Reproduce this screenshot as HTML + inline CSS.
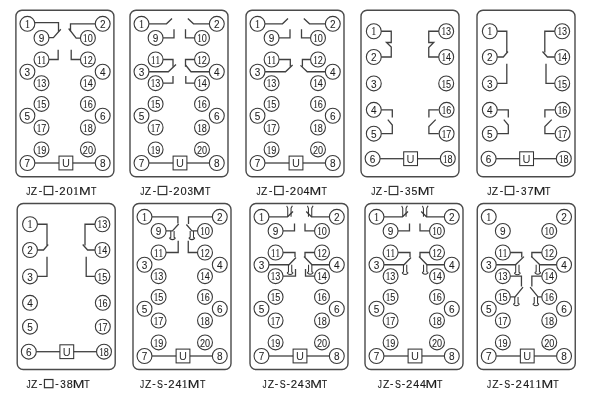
<!DOCTYPE html>
<html><head><meta charset="utf-8"><style>
html,body{margin:0;padding:0;background:#fff;width:600px;height:400px;overflow:hidden}
svg{position:absolute;left:0;top:0;will-change:transform}
.ln polyline,.ln line,.ln path{fill:none;stroke:#404040;stroke-width:1.3}
.ln circle{fill:none;stroke:#3a3a3a;stroke-width:1.1}
.ln .bx{fill:none;stroke:#4a4a4a;stroke-width:1.4}
.ln .ub{fill:none;stroke:#333;stroke-width:1.05}
.ln path.dl{stroke-width:1.05;stroke:#353535}
text{font-family:"Liberation Sans",sans-serif;fill:#333;text-anchor:middle}
.dg{font-size:11.8px;font-family:"Liberation Sans",sans-serif;fill:#1e1e1e;stroke:#1e1e1e;stroke-width:0.08}
.s1{font-family:"Liberation Serif",serif}
.u{font-size:11px}
.lb{font-size:11.5px;text-anchor:start;fill:#1a1a1a;stroke:#1a1a1a;stroke-width:0.15}
.lsq{fill:none;stroke:#333;stroke-width:1.2}
.lab{position:absolute;width:120px;text-align:center;font-family:"Liberation Sans",sans-serif;font-size:11px;line-height:14px;color:#333;letter-spacing:0.3px}
.sq{display:inline-block;width:7.5px;height:7.5px;border:1px solid #333;vertical-align:-0.5px;margin:0 1px}
</style></head><body>
<svg width="600" height="400" viewBox="0 0 600 400">
<g class="ln">
<rect x="15.90" y="10.25" width="98" height="166.5" rx="6" ry="6" class="bx" />
<circle cx="27.40" cy="23.80" r="7.45" />
<text transform="translate(27.40,27.90) scale(0.85,1)" class="dg"><tspan class="s1">1</tspan></text>
<circle cx="102.70" cy="23.80" r="7.45" />
<text transform="translate(102.70,27.90) scale(0.85,1)" class="dg">2</text>
<circle cx="41.50" cy="37.90" r="7.45" />
<text transform="translate(41.50,42.00) scale(0.85,1)" class="dg">9</text>
<circle cx="87.90" cy="37.90" r="7.45" />
<text transform="translate(87.90,42.00) scale(0.77,1)" class="dg"><tspan class="s1">1</tspan>0</text>
<circle cx="41.50" cy="59.50" r="7.45" />
<text transform="translate(41.50,63.60) scale(0.77,1)" class="dg"><tspan class="s1">1</tspan><tspan class="s1">1</tspan></text>
<circle cx="87.90" cy="59.50" r="7.45" />
<text transform="translate(87.90,63.60) scale(0.77,1)" class="dg"><tspan class="s1">1</tspan>2</text>
<circle cx="27.40" cy="71.75" r="7.45" />
<text transform="translate(27.40,75.85) scale(0.85,1)" class="dg">3</text>
<circle cx="102.70" cy="71.75" r="7.45" />
<text transform="translate(102.70,75.85) scale(0.85,1)" class="dg">4</text>
<circle cx="41.50" cy="83.20" r="7.45" />
<text transform="translate(41.50,87.30) scale(0.77,1)" class="dg"><tspan class="s1">1</tspan>3</text>
<circle cx="87.90" cy="83.20" r="7.45" />
<text transform="translate(87.90,87.30) scale(0.77,1)" class="dg"><tspan class="s1">1</tspan>4</text>
<circle cx="41.50" cy="103.90" r="7.45" />
<text transform="translate(41.50,108.00) scale(0.77,1)" class="dg"><tspan class="s1">1</tspan>5</text>
<circle cx="87.90" cy="103.90" r="7.45" />
<text transform="translate(87.90,108.00) scale(0.77,1)" class="dg"><tspan class="s1">1</tspan>6</text>
<circle cx="27.40" cy="115.75" r="7.45" />
<text transform="translate(27.40,119.85) scale(0.85,1)" class="dg">5</text>
<circle cx="102.70" cy="115.75" r="7.45" />
<text transform="translate(102.70,119.85) scale(0.85,1)" class="dg">6</text>
<circle cx="41.50" cy="127.50" r="7.45" />
<text transform="translate(41.50,131.60) scale(0.77,1)" class="dg"><tspan class="s1">1</tspan>7</text>
<circle cx="87.90" cy="127.50" r="7.45" />
<text transform="translate(87.90,131.60) scale(0.77,1)" class="dg"><tspan class="s1">1</tspan>8</text>
<circle cx="41.50" cy="149.40" r="7.45" />
<text transform="translate(41.50,153.50) scale(0.77,1)" class="dg"><tspan class="s1">1</tspan>9</text>
<circle cx="87.90" cy="149.40" r="7.45" />
<text transform="translate(87.90,153.50) scale(0.77,1)" class="dg">20</text>
<circle cx="27.40" cy="163.00" r="7.45" />
<text transform="translate(27.40,167.10) scale(0.85,1)" class="dg">7</text>
<circle cx="102.70" cy="163.00" r="7.45" />
<text transform="translate(102.70,167.10) scale(0.85,1)" class="dg">8</text>
<line x1="34.85" y1="163.00" x2="59.00" y2="163.00" />
<line x1="72.80" y1="163.00" x2="95.25" y2="163.00" />
<rect x="59.00" y="156.10" width="13.8" height="13.8" class="ub" />
<text x="65.90" y="166.80" class="u">U</text>
<polyline points="34.55,22.60 58.50,22.60 58.50,31.80" />
<polyline points="48.95,37.70 53.40,37.70 60.80,29.25" />
<polyline points="95.25,23.85 70.50,23.85 70.50,31.30" />
<polyline points="68.65,28.50 76.15,38.10 80.45,38.10" />
<polyline points="48.95,59.50 58.15,59.50 58.15,49.80" />
<polyline points="80.45,59.50 71.20,59.50 71.20,49.80" />
<rect x="130.00" y="10.25" width="98" height="166.5" rx="6" ry="6" class="bx" />
<circle cx="141.50" cy="23.80" r="7.45" />
<text transform="translate(141.50,27.90) scale(0.85,1)" class="dg"><tspan class="s1">1</tspan></text>
<circle cx="216.80" cy="23.80" r="7.45" />
<text transform="translate(216.80,27.90) scale(0.85,1)" class="dg">2</text>
<circle cx="155.60" cy="37.90" r="7.45" />
<text transform="translate(155.60,42.00) scale(0.85,1)" class="dg">9</text>
<circle cx="202.00" cy="37.90" r="7.45" />
<text transform="translate(202.00,42.00) scale(0.77,1)" class="dg"><tspan class="s1">1</tspan>0</text>
<circle cx="155.60" cy="59.50" r="7.45" />
<text transform="translate(155.60,63.60) scale(0.77,1)" class="dg"><tspan class="s1">1</tspan><tspan class="s1">1</tspan></text>
<circle cx="202.00" cy="59.50" r="7.45" />
<text transform="translate(202.00,63.60) scale(0.77,1)" class="dg"><tspan class="s1">1</tspan>2</text>
<circle cx="141.50" cy="71.75" r="7.45" />
<text transform="translate(141.50,75.85) scale(0.85,1)" class="dg">3</text>
<circle cx="216.80" cy="71.75" r="7.45" />
<text transform="translate(216.80,75.85) scale(0.85,1)" class="dg">4</text>
<circle cx="155.60" cy="83.20" r="7.45" />
<text transform="translate(155.60,87.30) scale(0.77,1)" class="dg"><tspan class="s1">1</tspan>3</text>
<circle cx="202.00" cy="83.20" r="7.45" />
<text transform="translate(202.00,87.30) scale(0.77,1)" class="dg"><tspan class="s1">1</tspan>4</text>
<circle cx="155.60" cy="103.90" r="7.45" />
<text transform="translate(155.60,108.00) scale(0.77,1)" class="dg"><tspan class="s1">1</tspan>5</text>
<circle cx="202.00" cy="103.90" r="7.45" />
<text transform="translate(202.00,108.00) scale(0.77,1)" class="dg"><tspan class="s1">1</tspan>6</text>
<circle cx="141.50" cy="115.75" r="7.45" />
<text transform="translate(141.50,119.85) scale(0.85,1)" class="dg">5</text>
<circle cx="216.80" cy="115.75" r="7.45" />
<text transform="translate(216.80,119.85) scale(0.85,1)" class="dg">6</text>
<circle cx="155.60" cy="127.50" r="7.45" />
<text transform="translate(155.60,131.60) scale(0.77,1)" class="dg"><tspan class="s1">1</tspan>7</text>
<circle cx="202.00" cy="127.50" r="7.45" />
<text transform="translate(202.00,131.60) scale(0.77,1)" class="dg"><tspan class="s1">1</tspan>8</text>
<circle cx="155.60" cy="149.40" r="7.45" />
<text transform="translate(155.60,153.50) scale(0.77,1)" class="dg"><tspan class="s1">1</tspan>9</text>
<circle cx="202.00" cy="149.40" r="7.45" />
<text transform="translate(202.00,153.50) scale(0.77,1)" class="dg">20</text>
<circle cx="141.50" cy="163.00" r="7.45" />
<text transform="translate(141.50,167.10) scale(0.85,1)" class="dg">7</text>
<circle cx="216.80" cy="163.00" r="7.45" />
<text transform="translate(216.80,167.10) scale(0.85,1)" class="dg">8</text>
<line x1="148.95" y1="163.00" x2="173.10" y2="163.00" />
<line x1="186.90" y1="163.00" x2="209.35" y2="163.00" />
<rect x="173.10" y="156.10" width="13.8" height="13.8" class="ub" />
<text x="180.00" y="166.80" class="u">U</text>
<polyline points="148.95,23.80 166.50,23.80 172.00,18.50" />
<polyline points="163.05,37.90 174.00,37.90 174.00,29.20" />
<polyline points="209.35,23.80 193.50,23.80 187.80,18.50" />
<polyline points="194.55,37.90 185.50,37.90 185.50,29.20" />
<polyline points="163.05,59.50 173.00,59.50 173.00,66.70" />
<polyline points="148.95,71.75 168.30,71.75 176.00,64.50" />
<polyline points="194.55,59.50 185.50,59.50 185.50,66.70" />
<polyline points="209.35,71.75 191.00,71.75 185.50,65.00" />
<polyline points="163.05,83.20 173.00,83.20 173.00,76.00" />
<polyline points="194.55,83.20 185.80,83.20 185.80,76.00" />
<rect x="246.00" y="10.25" width="98" height="166.5" rx="6" ry="6" class="bx" />
<circle cx="257.50" cy="23.80" r="7.45" />
<text transform="translate(257.50,27.90) scale(0.85,1)" class="dg"><tspan class="s1">1</tspan></text>
<circle cx="332.80" cy="23.80" r="7.45" />
<text transform="translate(332.80,27.90) scale(0.85,1)" class="dg">2</text>
<circle cx="271.60" cy="37.90" r="7.45" />
<text transform="translate(271.60,42.00) scale(0.85,1)" class="dg">9</text>
<circle cx="318.00" cy="37.90" r="7.45" />
<text transform="translate(318.00,42.00) scale(0.77,1)" class="dg"><tspan class="s1">1</tspan>0</text>
<circle cx="271.60" cy="59.50" r="7.45" />
<text transform="translate(271.60,63.60) scale(0.77,1)" class="dg"><tspan class="s1">1</tspan><tspan class="s1">1</tspan></text>
<circle cx="318.00" cy="59.50" r="7.45" />
<text transform="translate(318.00,63.60) scale(0.77,1)" class="dg"><tspan class="s1">1</tspan>2</text>
<circle cx="257.50" cy="71.75" r="7.45" />
<text transform="translate(257.50,75.85) scale(0.85,1)" class="dg">3</text>
<circle cx="332.80" cy="71.75" r="7.45" />
<text transform="translate(332.80,75.85) scale(0.85,1)" class="dg">4</text>
<circle cx="271.60" cy="83.20" r="7.45" />
<text transform="translate(271.60,87.30) scale(0.77,1)" class="dg"><tspan class="s1">1</tspan>3</text>
<circle cx="318.00" cy="83.20" r="7.45" />
<text transform="translate(318.00,87.30) scale(0.77,1)" class="dg"><tspan class="s1">1</tspan>4</text>
<circle cx="271.60" cy="103.90" r="7.45" />
<text transform="translate(271.60,108.00) scale(0.77,1)" class="dg"><tspan class="s1">1</tspan>5</text>
<circle cx="318.00" cy="103.90" r="7.45" />
<text transform="translate(318.00,108.00) scale(0.77,1)" class="dg"><tspan class="s1">1</tspan>6</text>
<circle cx="257.50" cy="115.75" r="7.45" />
<text transform="translate(257.50,119.85) scale(0.85,1)" class="dg">5</text>
<circle cx="332.80" cy="115.75" r="7.45" />
<text transform="translate(332.80,119.85) scale(0.85,1)" class="dg">6</text>
<circle cx="271.60" cy="127.50" r="7.45" />
<text transform="translate(271.60,131.60) scale(0.77,1)" class="dg"><tspan class="s1">1</tspan>7</text>
<circle cx="318.00" cy="127.50" r="7.45" />
<text transform="translate(318.00,131.60) scale(0.77,1)" class="dg"><tspan class="s1">1</tspan>8</text>
<circle cx="271.60" cy="149.40" r="7.45" />
<text transform="translate(271.60,153.50) scale(0.77,1)" class="dg"><tspan class="s1">1</tspan>9</text>
<circle cx="318.00" cy="149.40" r="7.45" />
<text transform="translate(318.00,153.50) scale(0.77,1)" class="dg">20</text>
<circle cx="257.50" cy="163.00" r="7.45" />
<text transform="translate(257.50,167.10) scale(0.85,1)" class="dg">7</text>
<circle cx="332.80" cy="163.00" r="7.45" />
<text transform="translate(332.80,167.10) scale(0.85,1)" class="dg">8</text>
<line x1="264.95" y1="163.00" x2="289.10" y2="163.00" />
<line x1="302.90" y1="163.00" x2="325.35" y2="163.00" />
<rect x="289.10" y="156.10" width="13.8" height="13.8" class="ub" />
<text x="296.00" y="166.80" class="u">U</text>
<polyline points="264.95,23.80 282.50,23.80 288.00,18.50" />
<polyline points="279.05,37.90 290.00,37.90 290.00,29.20" />
<polyline points="325.35,23.80 309.50,23.80 303.80,18.50" />
<polyline points="310.55,37.90 301.50,37.90 301.50,29.20" />
<polyline points="279.05,59.50 290.30,59.50 290.30,66.70" />
<polyline points="264.95,71.75 285.50,71.75 292.60,65.00" />
<polyline points="310.55,59.50 302.40,59.50 302.40,66.70" />
<polyline points="325.35,71.75 307.25,71.75 300.50,65.40" />
<rect x="361.00" y="10.25" width="98" height="166.5" rx="6" ry="6" class="bx" />
<circle cx="373.80" cy="31.25" r="7.45" />
<text transform="translate(373.80,35.35) scale(0.85,1)" class="dg"><tspan class="s1">1</tspan></text>
<circle cx="446.20" cy="31.25" r="7.45" />
<text transform="translate(446.20,35.35) scale(0.77,1)" class="dg"><tspan class="s1">1</tspan>3</text>
<circle cx="373.80" cy="57.00" r="7.45" />
<text transform="translate(373.80,61.10) scale(0.85,1)" class="dg">2</text>
<circle cx="446.20" cy="57.00" r="7.45" />
<text transform="translate(446.20,61.10) scale(0.77,1)" class="dg"><tspan class="s1">1</tspan>4</text>
<circle cx="373.80" cy="83.40" r="7.45" />
<text transform="translate(373.80,87.50) scale(0.85,1)" class="dg">3</text>
<circle cx="446.20" cy="83.40" r="7.45" />
<text transform="translate(446.20,87.50) scale(0.77,1)" class="dg"><tspan class="s1">1</tspan>5</text>
<circle cx="373.80" cy="109.80" r="7.45" />
<text transform="translate(373.80,113.90) scale(0.85,1)" class="dg">4</text>
<circle cx="446.60" cy="109.80" r="7.45" />
<text transform="translate(446.60,113.90) scale(0.77,1)" class="dg"><tspan class="s1">1</tspan>6</text>
<circle cx="373.80" cy="133.70" r="7.45" />
<text transform="translate(373.80,137.80) scale(0.85,1)" class="dg">5</text>
<circle cx="446.60" cy="133.70" r="7.45" />
<text transform="translate(446.60,137.80) scale(0.77,1)" class="dg"><tspan class="s1">1</tspan>7</text>
<circle cx="372.60" cy="158.70" r="7.45" />
<text transform="translate(372.60,162.80) scale(0.85,1)" class="dg">6</text>
<circle cx="447.80" cy="158.70" r="7.45" />
<text transform="translate(447.80,162.80) scale(0.77,1)" class="dg"><tspan class="s1">1</tspan>8</text>
<line x1="380.05" y1="158.70" x2="403.70" y2="158.70" />
<line x1="417.50" y1="158.70" x2="440.35" y2="158.70" />
<rect x="403.70" y="151.80" width="13.8" height="13.8" class="ub" />
<text x="410.60" y="162.50" class="u">U</text>
<polyline points="381.25,31.25 391.25,31.25 391.25,42.50 386.50,42.50 391.25,47.00 391.25,57.00 381.25,57.00" />
<polyline points="438.75,31.25 428.75,31.25 428.75,42.50 433.75,42.50 428.75,47.50 428.75,57.00 438.75,57.00" />
<polyline points="381.25,109.80 392.30,109.80 392.30,117.50" />
<polyline points="387.80,119.60 392.30,125.10 392.30,133.70 381.25,133.70" />
<polyline points="438.75,109.80 428.90,109.80 428.90,117.50" />
<polyline points="435.70,119.60 428.90,126.60 428.90,133.70 438.75,133.70" />
<rect x="477.00" y="10.25" width="98" height="166.5" rx="6" ry="6" class="bx" />
<circle cx="489.80" cy="31.25" r="7.45" />
<text transform="translate(489.80,35.35) scale(0.85,1)" class="dg"><tspan class="s1">1</tspan></text>
<circle cx="562.20" cy="31.25" r="7.45" />
<text transform="translate(562.20,35.35) scale(0.77,1)" class="dg"><tspan class="s1">1</tspan>3</text>
<circle cx="489.80" cy="57.00" r="7.45" />
<text transform="translate(489.80,61.10) scale(0.85,1)" class="dg">2</text>
<circle cx="562.20" cy="57.00" r="7.45" />
<text transform="translate(562.20,61.10) scale(0.77,1)" class="dg"><tspan class="s1">1</tspan>4</text>
<circle cx="489.80" cy="83.40" r="7.45" />
<text transform="translate(489.80,87.50) scale(0.85,1)" class="dg">3</text>
<circle cx="562.20" cy="83.40" r="7.45" />
<text transform="translate(562.20,87.50) scale(0.77,1)" class="dg"><tspan class="s1">1</tspan>5</text>
<circle cx="489.80" cy="109.80" r="7.45" />
<text transform="translate(489.80,113.90) scale(0.85,1)" class="dg">4</text>
<circle cx="562.60" cy="109.80" r="7.45" />
<text transform="translate(562.60,113.90) scale(0.77,1)" class="dg"><tspan class="s1">1</tspan>6</text>
<circle cx="489.80" cy="133.70" r="7.45" />
<text transform="translate(489.80,137.80) scale(0.85,1)" class="dg">5</text>
<circle cx="562.60" cy="133.70" r="7.45" />
<text transform="translate(562.60,137.80) scale(0.77,1)" class="dg"><tspan class="s1">1</tspan>7</text>
<circle cx="488.60" cy="158.70" r="7.45" />
<text transform="translate(488.60,162.80) scale(0.85,1)" class="dg">6</text>
<circle cx="563.80" cy="158.70" r="7.45" />
<text transform="translate(563.80,162.80) scale(0.77,1)" class="dg"><tspan class="s1">1</tspan>8</text>
<line x1="496.05" y1="158.70" x2="519.70" y2="158.70" />
<line x1="533.50" y1="158.70" x2="556.35" y2="158.70" />
<rect x="519.70" y="151.80" width="13.8" height="13.8" class="ub" />
<text x="526.60" y="162.50" class="u">U</text>
<polyline points="497.25,31.25 506.80,31.25 506.80,52.50" />
<polyline points="497.25,57.00 503.30,57.00 508.00,51.50" />
<polyline points="497.25,83.40 506.80,83.40 506.80,63.80" />
<polyline points="554.75,31.25 544.80,31.25 544.80,52.50" />
<polyline points="554.75,57.00 547.40,57.00 542.50,51.50" />
<polyline points="554.75,83.40 546.00,83.40 546.00,63.80" />
<polyline points="497.25,109.80 508.30,109.80 508.30,117.50" />
<polyline points="503.80,119.60 508.30,125.10 508.30,133.70 497.25,133.70" />
<polyline points="554.75,109.80 544.90,109.80 544.90,117.50" />
<polyline points="551.70,119.60 544.90,126.60 544.90,133.70 554.75,133.70" />
<rect x="17.20" y="203.50" width="98" height="166.0" rx="6" ry="6" class="bx" />
<circle cx="30.00" cy="224.25" r="7.45" />
<text transform="translate(30.00,228.35) scale(0.85,1)" class="dg"><tspan class="s1">1</tspan></text>
<circle cx="102.40" cy="224.25" r="7.45" />
<text transform="translate(102.40,228.35) scale(0.77,1)" class="dg"><tspan class="s1">1</tspan>3</text>
<circle cx="30.00" cy="250.00" r="7.45" />
<text transform="translate(30.00,254.10) scale(0.85,1)" class="dg">2</text>
<circle cx="102.40" cy="250.00" r="7.45" />
<text transform="translate(102.40,254.10) scale(0.77,1)" class="dg"><tspan class="s1">1</tspan>4</text>
<circle cx="30.00" cy="276.40" r="7.45" />
<text transform="translate(30.00,280.50) scale(0.85,1)" class="dg">3</text>
<circle cx="102.40" cy="276.40" r="7.45" />
<text transform="translate(102.40,280.50) scale(0.77,1)" class="dg"><tspan class="s1">1</tspan>5</text>
<circle cx="30.00" cy="302.80" r="7.45" />
<text transform="translate(30.00,306.90) scale(0.85,1)" class="dg">4</text>
<circle cx="102.80" cy="302.80" r="7.45" />
<text transform="translate(102.80,306.90) scale(0.77,1)" class="dg"><tspan class="s1">1</tspan>6</text>
<circle cx="30.00" cy="326.70" r="7.45" />
<text transform="translate(30.00,330.80) scale(0.85,1)" class="dg">5</text>
<circle cx="102.80" cy="326.70" r="7.45" />
<text transform="translate(102.80,330.80) scale(0.77,1)" class="dg"><tspan class="s1">1</tspan>7</text>
<circle cx="28.80" cy="351.70" r="7.45" />
<text transform="translate(28.80,355.80) scale(0.85,1)" class="dg">6</text>
<circle cx="104.00" cy="351.70" r="7.45" />
<text transform="translate(104.00,355.80) scale(0.77,1)" class="dg"><tspan class="s1">1</tspan>8</text>
<line x1="36.25" y1="351.70" x2="59.90" y2="351.70" />
<line x1="73.70" y1="351.70" x2="96.55" y2="351.70" />
<rect x="59.90" y="344.80" width="13.8" height="13.8" class="ub" />
<text x="66.80" y="355.50" class="u">U</text>
<polyline points="37.45,224.25 47.00,224.25 47.00,245.50" />
<polyline points="37.45,250.00 43.50,250.00 48.20,244.50" />
<polyline points="37.45,276.40 47.00,276.40 47.00,256.80" />
<polyline points="94.95,224.25 85.00,224.25 85.00,245.50" />
<polyline points="94.95,250.00 87.60,250.00 82.70,244.50" />
<polyline points="94.95,276.40 86.20,276.40 86.20,256.80" />
<rect x="133.00" y="203.50" width="98" height="166.0" rx="6" ry="6" class="bx" />
<circle cx="144.50" cy="216.80" r="7.45" />
<text transform="translate(144.50,220.90) scale(0.85,1)" class="dg"><tspan class="s1">1</tspan></text>
<circle cx="219.80" cy="216.80" r="7.45" />
<text transform="translate(219.80,220.90) scale(0.85,1)" class="dg">2</text>
<circle cx="158.60" cy="230.90" r="7.45" />
<text transform="translate(158.60,235.00) scale(0.85,1)" class="dg">9</text>
<circle cx="205.00" cy="230.90" r="7.45" />
<text transform="translate(205.00,235.00) scale(0.77,1)" class="dg"><tspan class="s1">1</tspan>0</text>
<circle cx="158.60" cy="252.50" r="7.45" />
<text transform="translate(158.60,256.60) scale(0.77,1)" class="dg"><tspan class="s1">1</tspan><tspan class="s1">1</tspan></text>
<circle cx="205.00" cy="252.50" r="7.45" />
<text transform="translate(205.00,256.60) scale(0.77,1)" class="dg"><tspan class="s1">1</tspan>2</text>
<circle cx="144.50" cy="264.75" r="7.45" />
<text transform="translate(144.50,268.85) scale(0.85,1)" class="dg">3</text>
<circle cx="219.80" cy="264.75" r="7.45" />
<text transform="translate(219.80,268.85) scale(0.85,1)" class="dg">4</text>
<circle cx="158.60" cy="276.20" r="7.45" />
<text transform="translate(158.60,280.30) scale(0.77,1)" class="dg"><tspan class="s1">1</tspan>3</text>
<circle cx="205.00" cy="276.20" r="7.45" />
<text transform="translate(205.00,280.30) scale(0.77,1)" class="dg"><tspan class="s1">1</tspan>4</text>
<circle cx="158.60" cy="296.90" r="7.45" />
<text transform="translate(158.60,301.00) scale(0.77,1)" class="dg"><tspan class="s1">1</tspan>5</text>
<circle cx="205.00" cy="296.90" r="7.45" />
<text transform="translate(205.00,301.00) scale(0.77,1)" class="dg"><tspan class="s1">1</tspan>6</text>
<circle cx="144.50" cy="308.75" r="7.45" />
<text transform="translate(144.50,312.85) scale(0.85,1)" class="dg">5</text>
<circle cx="219.80" cy="308.75" r="7.45" />
<text transform="translate(219.80,312.85) scale(0.85,1)" class="dg">6</text>
<circle cx="158.60" cy="320.50" r="7.45" />
<text transform="translate(158.60,324.60) scale(0.77,1)" class="dg"><tspan class="s1">1</tspan>7</text>
<circle cx="205.00" cy="320.50" r="7.45" />
<text transform="translate(205.00,324.60) scale(0.77,1)" class="dg"><tspan class="s1">1</tspan>8</text>
<circle cx="158.60" cy="342.40" r="7.45" />
<text transform="translate(158.60,346.50) scale(0.77,1)" class="dg"><tspan class="s1">1</tspan>9</text>
<circle cx="205.00" cy="342.40" r="7.45" />
<text transform="translate(205.00,346.50) scale(0.77,1)" class="dg">20</text>
<circle cx="144.50" cy="356.00" r="7.45" />
<text transform="translate(144.50,360.10) scale(0.85,1)" class="dg">7</text>
<circle cx="219.80" cy="356.00" r="7.45" />
<text transform="translate(219.80,360.10) scale(0.85,1)" class="dg">8</text>
<line x1="151.95" y1="356.00" x2="176.10" y2="356.00" />
<line x1="189.90" y1="356.00" x2="212.35" y2="356.00" />
<rect x="176.10" y="349.10" width="13.8" height="13.8" class="ub" />
<text x="183.00" y="359.80" class="u">U</text>
<polyline points="151.95,216.80 177.90,216.80 177.90,223.60" />
<polyline points="166.05,230.90 172.40,230.90 178.70,224.00" />
<polyline points="212.35,216.80 188.50,216.80 188.50,224.00" />
<polyline points="186.40,224.50 191.90,230.90 197.55,230.90" />
<path class="dl" d="M170.80,230.90 V237.20 Q169.25,237.80 169.85,238.50 Q172.45,240.80 175.05,238.50 Q175.65,237.80 174.10,237.20 V230.90" />
<path class="dl" d="M190.20,230.90 V237.20 Q188.65,237.80 189.25,238.50 Q191.85,240.80 194.45,238.50 Q195.05,237.80 193.50,237.20 V230.90" />
<polyline points="166.05,252.50 178.20,252.50 178.20,240.70" />
<polyline points="197.55,252.50 188.25,252.50 188.25,240.70" />
<rect x="250.00" y="203.50" width="98" height="166.0" rx="6" ry="6" class="bx" />
<circle cx="261.50" cy="216.80" r="7.45" />
<text transform="translate(261.50,220.90) scale(0.85,1)" class="dg"><tspan class="s1">1</tspan></text>
<circle cx="336.80" cy="216.80" r="7.45" />
<text transform="translate(336.80,220.90) scale(0.85,1)" class="dg">2</text>
<circle cx="275.60" cy="230.90" r="7.45" />
<text transform="translate(275.60,235.00) scale(0.85,1)" class="dg">9</text>
<circle cx="322.00" cy="230.90" r="7.45" />
<text transform="translate(322.00,235.00) scale(0.77,1)" class="dg"><tspan class="s1">1</tspan>0</text>
<circle cx="275.60" cy="252.50" r="7.45" />
<text transform="translate(275.60,256.60) scale(0.77,1)" class="dg"><tspan class="s1">1</tspan><tspan class="s1">1</tspan></text>
<circle cx="322.00" cy="252.50" r="7.45" />
<text transform="translate(322.00,256.60) scale(0.77,1)" class="dg"><tspan class="s1">1</tspan>2</text>
<circle cx="261.50" cy="264.75" r="7.45" />
<text transform="translate(261.50,268.85) scale(0.85,1)" class="dg">3</text>
<circle cx="336.80" cy="264.75" r="7.45" />
<text transform="translate(336.80,268.85) scale(0.85,1)" class="dg">4</text>
<circle cx="275.60" cy="276.20" r="7.45" />
<text transform="translate(275.60,280.30) scale(0.77,1)" class="dg"><tspan class="s1">1</tspan>3</text>
<circle cx="322.00" cy="276.20" r="7.45" />
<text transform="translate(322.00,280.30) scale(0.77,1)" class="dg"><tspan class="s1">1</tspan>4</text>
<circle cx="275.60" cy="296.90" r="7.45" />
<text transform="translate(275.60,301.00) scale(0.77,1)" class="dg"><tspan class="s1">1</tspan>5</text>
<circle cx="322.00" cy="296.90" r="7.45" />
<text transform="translate(322.00,301.00) scale(0.77,1)" class="dg"><tspan class="s1">1</tspan>6</text>
<circle cx="261.50" cy="308.75" r="7.45" />
<text transform="translate(261.50,312.85) scale(0.85,1)" class="dg">5</text>
<circle cx="336.80" cy="308.75" r="7.45" />
<text transform="translate(336.80,312.85) scale(0.85,1)" class="dg">6</text>
<circle cx="275.60" cy="320.50" r="7.45" />
<text transform="translate(275.60,324.60) scale(0.77,1)" class="dg"><tspan class="s1">1</tspan>7</text>
<circle cx="322.00" cy="320.50" r="7.45" />
<text transform="translate(322.00,324.60) scale(0.77,1)" class="dg"><tspan class="s1">1</tspan>8</text>
<circle cx="275.60" cy="342.40" r="7.45" />
<text transform="translate(275.60,346.50) scale(0.77,1)" class="dg"><tspan class="s1">1</tspan>9</text>
<circle cx="322.00" cy="342.40" r="7.45" />
<text transform="translate(322.00,346.50) scale(0.77,1)" class="dg">20</text>
<circle cx="261.50" cy="356.00" r="7.45" />
<text transform="translate(261.50,360.10) scale(0.85,1)" class="dg">7</text>
<circle cx="336.80" cy="356.00" r="7.45" />
<text transform="translate(336.80,360.10) scale(0.85,1)" class="dg">8</text>
<line x1="268.95" y1="356.00" x2="293.10" y2="356.00" />
<line x1="306.90" y1="356.00" x2="329.35" y2="356.00" />
<rect x="293.10" y="349.10" width="13.8" height="13.8" class="ub" />
<text x="300.00" y="359.80" class="u">U</text>
<polyline points="268.95,216.80 287.50,216.80 293.00,211.50" />
<path class="dl" d="M287.75,216.80 V208.25 L286.70,205.85 M291.05,216.80 V208.25 L292.40,205.85" />
<polyline points="283.05,230.90 294.50,230.90 294.50,223.50" />
<polyline points="329.35,216.80 311.50,216.80 306.20,211.50" />
<path class="dl" d="M308.45,216.80 V208.25 L307.40,205.85 M311.75,216.80 V208.25 L313.10,205.85" />
<polyline points="314.55,230.90 305.00,230.90 305.00,223.50" />
<polyline points="283.05,252.50 295.00,252.50 295.00,257.00" />
<polyline points="268.95,264.75 289.00,264.75 296.00,257.50" />
<path class="dl" d="M288.45,264.75 V272.00 Q286.90,272.60 287.50,273.30 Q290.10,275.60 292.70,273.30 Q293.30,272.60 291.75,272.00 V264.75" />
<polyline points="314.55,252.50 305.00,252.50 305.00,257.00" />
<polyline points="329.35,264.75 312.00,264.75 304.00,256.50" />
<path class="dl" d="M308.55,264.75 V271.80 Q307.00,272.40 307.60,273.10 Q310.20,275.40 312.80,273.10 Q313.40,272.40 311.85,271.80 V264.75" />
<polyline points="283.05,276.20 295.50,276.20 295.50,269.00" />
<polyline points="314.55,276.20 305.50,276.20 305.50,269.00" />
<rect x="365.00" y="203.50" width="98" height="166.0" rx="6" ry="6" class="bx" />
<circle cx="376.50" cy="216.80" r="7.45" />
<text transform="translate(376.50,220.90) scale(0.85,1)" class="dg"><tspan class="s1">1</tspan></text>
<circle cx="451.80" cy="216.80" r="7.45" />
<text transform="translate(451.80,220.90) scale(0.85,1)" class="dg">2</text>
<circle cx="390.60" cy="230.90" r="7.45" />
<text transform="translate(390.60,235.00) scale(0.85,1)" class="dg">9</text>
<circle cx="437.00" cy="230.90" r="7.45" />
<text transform="translate(437.00,235.00) scale(0.77,1)" class="dg"><tspan class="s1">1</tspan>0</text>
<circle cx="390.60" cy="252.50" r="7.45" />
<text transform="translate(390.60,256.60) scale(0.77,1)" class="dg"><tspan class="s1">1</tspan><tspan class="s1">1</tspan></text>
<circle cx="437.00" cy="252.50" r="7.45" />
<text transform="translate(437.00,256.60) scale(0.77,1)" class="dg"><tspan class="s1">1</tspan>2</text>
<circle cx="376.50" cy="264.75" r="7.45" />
<text transform="translate(376.50,268.85) scale(0.85,1)" class="dg">3</text>
<circle cx="451.80" cy="264.75" r="7.45" />
<text transform="translate(451.80,268.85) scale(0.85,1)" class="dg">4</text>
<circle cx="390.60" cy="276.20" r="7.45" />
<text transform="translate(390.60,280.30) scale(0.77,1)" class="dg"><tspan class="s1">1</tspan>3</text>
<circle cx="437.00" cy="276.20" r="7.45" />
<text transform="translate(437.00,280.30) scale(0.77,1)" class="dg"><tspan class="s1">1</tspan>4</text>
<circle cx="390.60" cy="296.90" r="7.45" />
<text transform="translate(390.60,301.00) scale(0.77,1)" class="dg"><tspan class="s1">1</tspan>5</text>
<circle cx="437.00" cy="296.90" r="7.45" />
<text transform="translate(437.00,301.00) scale(0.77,1)" class="dg"><tspan class="s1">1</tspan>6</text>
<circle cx="376.50" cy="308.75" r="7.45" />
<text transform="translate(376.50,312.85) scale(0.85,1)" class="dg">5</text>
<circle cx="451.80" cy="308.75" r="7.45" />
<text transform="translate(451.80,312.85) scale(0.85,1)" class="dg">6</text>
<circle cx="390.60" cy="320.50" r="7.45" />
<text transform="translate(390.60,324.60) scale(0.77,1)" class="dg"><tspan class="s1">1</tspan>7</text>
<circle cx="437.00" cy="320.50" r="7.45" />
<text transform="translate(437.00,324.60) scale(0.77,1)" class="dg"><tspan class="s1">1</tspan>8</text>
<circle cx="390.60" cy="342.40" r="7.45" />
<text transform="translate(390.60,346.50) scale(0.77,1)" class="dg"><tspan class="s1">1</tspan>9</text>
<circle cx="437.00" cy="342.40" r="7.45" />
<text transform="translate(437.00,346.50) scale(0.77,1)" class="dg">20</text>
<circle cx="376.50" cy="356.00" r="7.45" />
<text transform="translate(376.50,360.10) scale(0.85,1)" class="dg">7</text>
<circle cx="451.80" cy="356.00" r="7.45" />
<text transform="translate(451.80,360.10) scale(0.85,1)" class="dg">8</text>
<line x1="383.95" y1="356.00" x2="408.10" y2="356.00" />
<line x1="421.90" y1="356.00" x2="444.35" y2="356.00" />
<rect x="408.10" y="349.10" width="13.8" height="13.8" class="ub" />
<text x="415.00" y="359.80" class="u">U</text>
<polyline points="383.95,216.80 402.50,216.80 408.00,211.50" />
<path class="dl" d="M402.75,216.80 V208.25 L401.70,205.85 M406.05,216.80 V208.25 L407.40,205.85" />
<polyline points="398.05,230.90 409.50,230.90 409.50,223.50" />
<polyline points="444.35,216.80 426.50,216.80 421.20,211.50" />
<path class="dl" d="M423.45,216.80 V208.25 L422.40,205.85 M426.75,216.80 V208.25 L428.10,205.85" />
<polyline points="429.55,230.90 420.00,230.90 420.00,223.50" />
<polyline points="398.05,252.50 410.00,252.50 410.00,257.00" />
<polyline points="383.95,264.75 404.00,264.75 411.00,257.50" />
<path class="dl" d="M403.45,264.75 V272.00 Q401.90,272.60 402.50,273.30 Q405.10,275.60 407.70,273.30 Q408.30,272.60 406.75,272.00 V264.75" />
<polyline points="429.55,252.50 420.00,252.50 420.00,257.00" />
<polyline points="444.35,264.75 427.00,264.75 419.00,256.50" />
<path class="dl" d="M423.55,264.75 V271.80 Q422.00,272.40 422.60,273.10 Q425.20,275.40 427.80,273.10 Q428.40,272.40 426.85,271.80 V264.75" />
<rect x="477.25" y="203.50" width="98" height="166.0" rx="6" ry="6" class="bx" />
<circle cx="488.75" cy="216.80" r="7.45" />
<text transform="translate(488.75,220.90) scale(0.85,1)" class="dg"><tspan class="s1">1</tspan></text>
<circle cx="564.05" cy="216.80" r="7.45" />
<text transform="translate(564.05,220.90) scale(0.85,1)" class="dg">2</text>
<circle cx="502.85" cy="230.90" r="7.45" />
<text transform="translate(502.85,235.00) scale(0.85,1)" class="dg">9</text>
<circle cx="549.25" cy="230.90" r="7.45" />
<text transform="translate(549.25,235.00) scale(0.77,1)" class="dg"><tspan class="s1">1</tspan>0</text>
<circle cx="502.85" cy="252.50" r="7.45" />
<text transform="translate(502.85,256.60) scale(0.77,1)" class="dg"><tspan class="s1">1</tspan><tspan class="s1">1</tspan></text>
<circle cx="549.25" cy="252.50" r="7.45" />
<text transform="translate(549.25,256.60) scale(0.77,1)" class="dg"><tspan class="s1">1</tspan>2</text>
<circle cx="488.75" cy="264.75" r="7.45" />
<text transform="translate(488.75,268.85) scale(0.85,1)" class="dg">3</text>
<circle cx="564.05" cy="264.75" r="7.45" />
<text transform="translate(564.05,268.85) scale(0.85,1)" class="dg">4</text>
<circle cx="502.85" cy="276.20" r="7.45" />
<text transform="translate(502.85,280.30) scale(0.77,1)" class="dg"><tspan class="s1">1</tspan>3</text>
<circle cx="549.25" cy="276.20" r="7.45" />
<text transform="translate(549.25,280.30) scale(0.77,1)" class="dg"><tspan class="s1">1</tspan>4</text>
<circle cx="502.85" cy="296.90" r="7.45" />
<text transform="translate(502.85,301.00) scale(0.77,1)" class="dg"><tspan class="s1">1</tspan>5</text>
<circle cx="549.25" cy="296.90" r="7.45" />
<text transform="translate(549.25,301.00) scale(0.77,1)" class="dg"><tspan class="s1">1</tspan>6</text>
<circle cx="488.75" cy="308.75" r="7.45" />
<text transform="translate(488.75,312.85) scale(0.85,1)" class="dg">5</text>
<circle cx="564.05" cy="308.75" r="7.45" />
<text transform="translate(564.05,312.85) scale(0.85,1)" class="dg">6</text>
<circle cx="502.85" cy="320.50" r="7.45" />
<text transform="translate(502.85,324.60) scale(0.77,1)" class="dg"><tspan class="s1">1</tspan>7</text>
<circle cx="549.25" cy="320.50" r="7.45" />
<text transform="translate(549.25,324.60) scale(0.77,1)" class="dg"><tspan class="s1">1</tspan>8</text>
<circle cx="502.85" cy="342.40" r="7.45" />
<text transform="translate(502.85,346.50) scale(0.77,1)" class="dg"><tspan class="s1">1</tspan>9</text>
<circle cx="549.25" cy="342.40" r="7.45" />
<text transform="translate(549.25,346.50) scale(0.77,1)" class="dg">20</text>
<circle cx="488.75" cy="356.00" r="7.45" />
<text transform="translate(488.75,360.10) scale(0.85,1)" class="dg">7</text>
<circle cx="564.05" cy="356.00" r="7.45" />
<text transform="translate(564.05,360.10) scale(0.85,1)" class="dg">8</text>
<line x1="496.20" y1="356.00" x2="520.35" y2="356.00" />
<line x1="534.15" y1="356.00" x2="556.60" y2="356.00" />
<rect x="520.35" y="349.10" width="13.8" height="13.8" class="ub" />
<text x="527.25" y="359.80" class="u">U</text>
<polyline points="510.30,252.50 521.75,252.50 521.75,257.50" />
<polyline points="496.20,264.75 515.50,264.75 523.95,256.60" />
<path class="dl" d="M515.70,264.75 V272.25 Q514.15,272.85 514.75,273.55 Q517.35,275.85 519.95,273.55 Q520.55,272.85 519.00,272.25 V264.75" />
<polyline points="510.30,276.20 521.45,276.20 521.45,286.40" />
<polyline points="510.30,296.90 515.10,296.90 523.00,287.10" />
<path class="dl" d="M514.75,296.90 V303.25 Q513.20,303.85 513.80,304.55 Q516.40,306.85 519.00,304.55 Q519.60,303.85 518.05,303.25 V296.90" />
<polyline points="541.80,252.50 531.85,252.50 531.85,257.50" />
<polyline points="556.60,264.75 539.90,264.75 531.25,256.40" />
<path class="dl" d="M536.15,264.75 V271.80 Q534.60,272.40 535.20,273.10 Q537.80,275.40 540.40,273.10 Q541.00,272.40 539.45,271.80 V264.75" />
<polyline points="541.80,276.20 531.85,276.20 531.85,286.40" />
<polyline points="541.80,296.90 538.00,296.90 530.10,287.10" />
<path class="dl" d="M534.25,296.90 V303.25 Q532.70,303.85 533.30,304.55 Q535.90,306.85 538.50,304.55 Q539.10,303.85 537.55,303.25 V296.90" />
</g>
<text class="lb" transform="translate(28.00,194.50) scale(0.721,1)" x="-2.54">J</text>
<text class="lb" transform="translate(33.85,194.50) scale(0.905,1)" x="-3.52">Z</text>
<text class="lb" transform="translate(40.35,193.60) scale(0.890,1)" x="-1.91">-</text>
<rect class="lsq" x="44.25" y="186.40" width="8.5" height="8.2" />
<text class="lb" transform="translate(56.70,193.60) scale(0.890,1)" x="-1.91">-</text>
<text class="lb" transform="translate(62.50,194.50) scale(0.993,1)" x="-3.20">2</text>
<text class="lb" transform="translate(69.65,194.50) scale(0.964,1)" x="-3.20">0</text>
<text class="lb" transform="translate(76.15,194.50) scale(0.962,1)" x="-3.19" style="font-family:&quot;Liberation Serif&quot;,serif;font-size:12.1px">1</text>
<text class="lb" transform="translate(84.85,194.50) scale(1.222,1)" x="-4.79">M</text>
<text class="lb" transform="translate(93.80,194.50) scale(0.769,1)" x="-3.51">T</text>
<text class="lb" transform="translate(142.00,194.50) scale(0.721,1)" x="-2.54">J</text>
<text class="lb" transform="translate(147.85,194.50) scale(0.905,1)" x="-3.52">Z</text>
<text class="lb" transform="translate(154.35,193.60) scale(0.890,1)" x="-1.91">-</text>
<rect class="lsq" x="158.25" y="186.40" width="8.5" height="8.2" />
<text class="lb" transform="translate(170.70,193.60) scale(0.890,1)" x="-1.91">-</text>
<text class="lb" transform="translate(176.50,194.50) scale(0.993,1)" x="-3.20">2</text>
<text class="lb" transform="translate(183.65,194.50) scale(0.964,1)" x="-3.20">0</text>
<text class="lb" transform="translate(190.15,194.50) scale(0.862,1)" x="-3.16">3</text>
<text class="lb" transform="translate(198.85,194.50) scale(1.222,1)" x="-4.79">M</text>
<text class="lb" transform="translate(207.80,194.50) scale(0.769,1)" x="-3.51">T</text>
<text class="lb" transform="translate(258.40,194.50) scale(0.721,1)" x="-2.54">J</text>
<text class="lb" transform="translate(264.25,194.50) scale(0.905,1)" x="-3.52">Z</text>
<text class="lb" transform="translate(270.75,193.60) scale(0.890,1)" x="-1.91">-</text>
<rect class="lsq" x="274.65" y="186.40" width="8.5" height="8.2" />
<text class="lb" transform="translate(287.10,193.60) scale(0.890,1)" x="-1.91">-</text>
<text class="lb" transform="translate(292.90,194.50) scale(0.993,1)" x="-3.20">2</text>
<text class="lb" transform="translate(300.05,194.50) scale(0.964,1)" x="-3.20">0</text>
<text class="lb" transform="translate(306.55,194.50) scale(0.932,1)" x="-3.16">4</text>
<text class="lb" transform="translate(315.25,194.50) scale(1.222,1)" x="-4.79">M</text>
<text class="lb" transform="translate(324.20,194.50) scale(0.769,1)" x="-3.51">T</text>
<text class="lb" transform="translate(373.00,194.50) scale(0.721,1)" x="-2.54">J</text>
<text class="lb" transform="translate(378.85,194.50) scale(0.905,1)" x="-3.52">Z</text>
<text class="lb" transform="translate(385.35,193.60) scale(0.890,1)" x="-1.91">-</text>
<rect class="lsq" x="389.25" y="186.40" width="8.5" height="8.2" />
<text class="lb" transform="translate(401.70,193.60) scale(0.890,1)" x="-1.91">-</text>
<text class="lb" transform="translate(407.65,194.50) scale(0.862,1)" x="-3.16">3</text>
<text class="lb" transform="translate(414.50,194.50) scale(0.917,1)" x="-3.19">5</text>
<text class="lb" transform="translate(423.50,194.50) scale(1.222,1)" x="-4.79">M</text>
<text class="lb" transform="translate(431.70,194.50) scale(0.769,1)" x="-3.51">T</text>
<text class="lb" transform="translate(489.00,194.50) scale(0.721,1)" x="-2.54">J</text>
<text class="lb" transform="translate(494.85,194.50) scale(0.905,1)" x="-3.52">Z</text>
<text class="lb" transform="translate(501.35,193.60) scale(0.890,1)" x="-1.91">-</text>
<rect class="lsq" x="505.25" y="186.40" width="8.5" height="8.2" />
<text class="lb" transform="translate(517.70,193.60) scale(0.890,1)" x="-1.91">-</text>
<text class="lb" transform="translate(523.65,194.50) scale(0.862,1)" x="-3.16">3</text>
<text class="lb" transform="translate(530.50,194.50) scale(0.956,1)" x="-3.20">7</text>
<text class="lb" transform="translate(539.50,194.50) scale(1.222,1)" x="-4.79">M</text>
<text class="lb" transform="translate(547.70,194.50) scale(0.769,1)" x="-3.51">T</text>
<text class="lb" transform="translate(28.20,387.60) scale(0.721,1)" x="-2.54">J</text>
<text class="lb" transform="translate(34.05,387.60) scale(0.905,1)" x="-3.52">Z</text>
<text class="lb" transform="translate(40.55,386.70) scale(0.890,1)" x="-1.91">-</text>
<rect class="lsq" x="44.45" y="379.50" width="8.5" height="8.2" />
<text class="lb" transform="translate(56.90,386.70) scale(0.890,1)" x="-1.91">-</text>
<text class="lb" transform="translate(62.85,387.60) scale(0.862,1)" x="-3.16">3</text>
<text class="lb" transform="translate(69.70,387.60) scale(0.945,1)" x="-3.20">8</text>
<text class="lb" transform="translate(78.70,387.60) scale(1.222,1)" x="-4.79">M</text>
<text class="lb" transform="translate(86.90,387.60) scale(0.769,1)" x="-3.51">T</text>
<text class="lb" transform="translate(141.75,387.60) scale(0.721,1)" x="-2.54">J</text>
<text class="lb" transform="translate(148.20,387.60) scale(0.905,1)" x="-3.52">Z</text>
<text class="lb" transform="translate(153.90,386.70) scale(0.890,1)" x="-1.91">-</text>
<text class="lb" transform="translate(160.05,387.60) scale(0.770,1)" x="-3.83">S</text>
<text class="lb" transform="translate(165.60,386.70) scale(0.890,1)" x="-1.91">-</text>
<text class="lb" transform="translate(171.40,387.60) scale(0.993,1)" x="-3.20">2</text>
<text class="lb" transform="translate(178.55,387.60) scale(0.932,1)" x="-3.16">4</text>
<text class="lb" transform="translate(184.85,387.60) scale(0.962,1)" x="-3.19" style="font-family:&quot;Liberation Serif&quot;,serif;font-size:12.1px">1</text>
<text class="lb" transform="translate(193.55,387.60) scale(1.222,1)" x="-4.79">M</text>
<text class="lb" transform="translate(202.80,387.60) scale(0.769,1)" x="-3.51">T</text>
<text class="lb" transform="translate(264.35,387.60) scale(0.721,1)" x="-2.54">J</text>
<text class="lb" transform="translate(270.80,387.60) scale(0.905,1)" x="-3.52">Z</text>
<text class="lb" transform="translate(276.50,386.70) scale(0.890,1)" x="-1.91">-</text>
<text class="lb" transform="translate(282.65,387.60) scale(0.770,1)" x="-3.83">S</text>
<text class="lb" transform="translate(288.20,386.70) scale(0.890,1)" x="-1.91">-</text>
<text class="lb" transform="translate(294.00,387.60) scale(0.993,1)" x="-3.20">2</text>
<text class="lb" transform="translate(300.70,387.60) scale(0.932,1)" x="-3.16">4</text>
<text class="lb" transform="translate(307.75,387.60) scale(0.862,1)" x="-3.16">3</text>
<text class="lb" transform="translate(316.15,387.60) scale(1.222,1)" x="-4.79">M</text>
<text class="lb" transform="translate(324.40,387.60) scale(0.769,1)" x="-3.51">T</text>
<text class="lb" transform="translate(379.65,387.60) scale(0.721,1)" x="-2.54">J</text>
<text class="lb" transform="translate(386.10,387.60) scale(0.905,1)" x="-3.52">Z</text>
<text class="lb" transform="translate(391.80,386.70) scale(0.890,1)" x="-1.91">-</text>
<text class="lb" transform="translate(397.95,387.60) scale(0.770,1)" x="-3.83">S</text>
<text class="lb" transform="translate(403.50,386.70) scale(0.890,1)" x="-1.91">-</text>
<text class="lb" transform="translate(409.30,387.60) scale(0.993,1)" x="-3.20">2</text>
<text class="lb" transform="translate(416.10,387.60) scale(0.932,1)" x="-3.16">4</text>
<text class="lb" transform="translate(423.00,387.60) scale(0.932,1)" x="-3.16">4</text>
<text class="lb" transform="translate(431.45,387.60) scale(1.222,1)" x="-4.79">M</text>
<text class="lb" transform="translate(439.70,387.60) scale(0.769,1)" x="-3.51">T</text>
<text class="lb" transform="translate(488.85,387.60) scale(0.721,1)" x="-2.54">J</text>
<text class="lb" transform="translate(495.30,387.60) scale(0.905,1)" x="-3.52">Z</text>
<text class="lb" transform="translate(501.00,386.70) scale(0.890,1)" x="-1.91">-</text>
<text class="lb" transform="translate(507.15,387.60) scale(0.770,1)" x="-3.83">S</text>
<text class="lb" transform="translate(512.70,386.70) scale(0.890,1)" x="-1.91">-</text>
<text class="lb" transform="translate(518.75,387.60) scale(0.993,1)" x="-3.20">2</text>
<text class="lb" transform="translate(526.10,387.60) scale(0.932,1)" x="-3.16">4</text>
<text class="lb" transform="translate(532.05,387.60) scale(0.962,1)" x="-3.19" style="font-family:&quot;Liberation Serif&quot;,serif;font-size:12.1px">1</text>
<text class="lb" transform="translate(538.65,387.60) scale(0.962,1)" x="-3.19" style="font-family:&quot;Liberation Serif&quot;,serif;font-size:12.1px">1</text>
<text class="lb" transform="translate(547.40,387.60) scale(1.222,1)" x="-4.79">M</text>
<text class="lb" transform="translate(555.90,387.60) scale(0.769,1)" x="-3.51">T</text>
</svg>

</body></html>
